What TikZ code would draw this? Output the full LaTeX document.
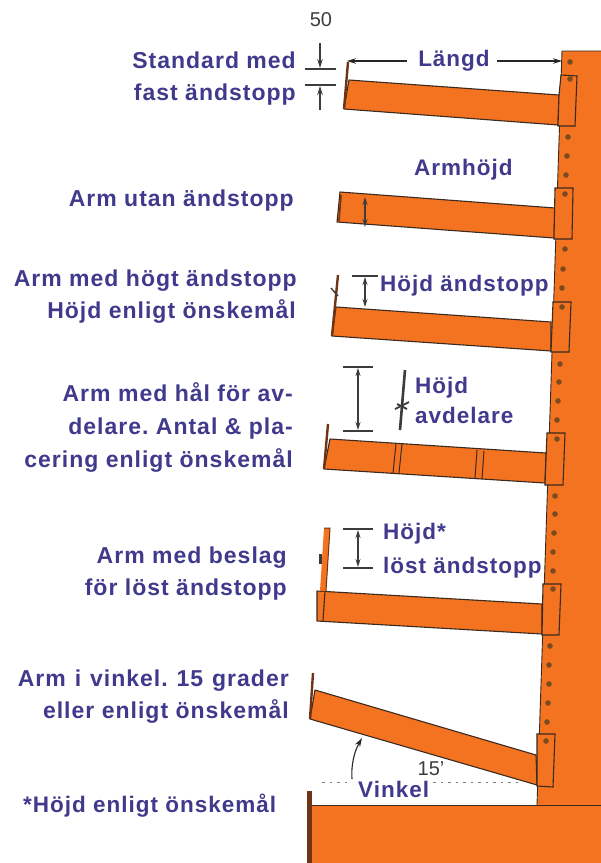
\documentclass[tikz,border=0pt]{standalone}
\usepackage{fontspec}
\setmainfont{Liberation Sans}
\newfontfamily\labfont[LetterSpace=4.4]{Liberation Sans}
\definecolor{steel}{HTML}{F47320}
\definecolor{steeldark}{HTML}{6E3414}
\definecolor{labelblue}{HTML}{3F3A8C}
\definecolor{inkline}{HTML}{3A2A20}
\definecolor{holeink}{HTML}{7A4A20}
\definecolor{dimgray}{HTML}{3C3C3C}
\usetikzlibrary{arrows.meta}
\tikzset{
  lab/.style={inner sep=0pt,text=labelblue,font=\labfont\fontsize{22.5}{22.5}\selectfont\bfseries\frenchspacing},
  lableft/.style={inner sep=0pt,text=labelblue,font=\labfont\fontsize{23}{23}\selectfont\bfseries\frenchspacing,anchor=base east},
  labright/.style={lab,anchor=base west},
  numlab/.style={inner sep=0pt,text=dimgray,font=\fontsize{20}{20}\selectfont},
  body/.style={fill=steel,draw=none},
  arm/.style={fill=steel,draw=inkline,line width=1.1pt,line join=round},
  plate/.style={fill=steel,draw=inkline,line width=1.1pt},
  stopbar/.style={draw=steeldark,line width=2.4pt},
  hole/.style={fill=holeink,draw=none},
  dimtick/.style={draw=dimgray,line width=1.1pt},
  dimarrow/.style={draw=dimgray,line width=1.1pt,{Stealth[length=8pt,width=5pt]}-{Stealth[length=8pt,width=5pt]}},
  leader/.style={draw=black!85,line width=1.1pt,-{Stealth[length=9pt,width=5.5pt]}},
  squig/.style={draw=dimgray,line width=2.6pt},
  dotline/.style={draw=black!50,line width=1pt,dash pattern=on 2.5pt off 5pt},
}
\begin{document}
\begin{tikzpicture}[x=1pt,y=-1pt]
\useasboundingbox (0,0) rectangle (601,863);
% column and base
\fill[body] (562,51) -- (601,51) -- (601,806) -- (537,806) -- cycle;
\draw[draw=inkline,line width=0.9pt] (601,51) -- (562,51) -- (537,805);
\fill[body] (307,805) rectangle (601,863);
\fill[steeldark] (307,791) rectangle (312,863);
\draw[draw=inkline,line width=1pt] (312,805) -- (601,805);
% column holes
\foreach \hx/\hy in {570/62,568/137,567/156,566/175,565/249,563/269,562/288,560/364,559/382,558/401,557/420,555/496,555/514,554/533,553/552,553/571,550/646,549/665,549/684,548/703,547/722}
  \fill[hole] (\hx,\hy) circle (2.8pt);
% arm 1
\draw[arm] (349,80) -- (559,95) -- (558,125) -- (344,109) -- cycle;
\draw[stopbar] (348,62) -- (344,109);
\draw[plate] (561,75) -- (577,76) -- (575,126) -- (558,126) -- (559,95) -- cycle;
\fill[hole] (570,79) circle (2.8pt);
% arm 2
\draw[arm] (340,192) -- (555,208) -- (554,238) -- (337,222) -- cycle;
\draw[stopbar,line width=1.6pt] (341,195) -- (339,221);
\draw[plate] (555,188) -- (573,188) -- (572,239) -- (554,239) -- cycle;
\fill[hole] (565,194) circle (2.8pt);
% arm 3
\draw[arm] (336,307) -- (551,322) -- (551,351) -- (332,336) -- cycle;
\draw[stopbar] (338,275) -- (332,336);
\draw[plate] (553,302) -- (571,302) -- (569,352) -- (551,352) -- cycle;
\fill[hole] (562,307) circle (2.8pt);
\draw[draw=dimgray,line width=1.4pt] (331,288) -- (338,296);
% arm 4
\draw[arm] (330,439) -- (546,453) -- (545,483) -- (324,469) -- cycle;
\draw[stopbar] (328,424) -- (324,469);
\draw[inkline,line width=1pt] (396,444) -- (393,473) (402,444) -- (399,473)
  (477,450) -- (475,478) (484,451) -- (482,479);
\draw[plate] (547,433) -- (565,433) -- (563,485) -- (545,485) -- cycle;
\fill[hole] (557,439) circle (2.8pt);
% arm 5
\draw[arm] (317,591) -- (542,604) -- (542,634) -- (317,621) -- cycle;
\draw[inkline,line width=1.1pt] (325,591) -- (323,621);
\fill[body] (324,528) -- (330,528) -- (326,591) -- (320,591) -- cycle;
\draw[draw=steeldark,line width=1pt] (324,528) -- (330,528) -- (326,591);
\fill[dimgray] (319,554) rectangle (321.5,564);
\draw[plate] (543,584) -- (561,584) -- (559,635) -- (542,635) -- cycle;
\fill[hole] (553,589) circle (2.8pt);
% arm 6
\draw[arm] (315,690) -- (536,755) -- (537,785) -- (310,719) -- cycle;
\draw[stopbar] (313,673) -- (310,719);
\draw[plate] (537,734) -- (555,734) -- (553,787) -- (537,786) -- cycle;
\fill[hole] (546,741) circle (2.8pt);
% dimension marks
\draw[dimtick] (305,69) -- (336,69) (305,85) -- (336,85);
\draw[draw=dimgray,line width=1.1pt,-{Stealth[length=9pt,width=5.5pt]}] (320,43) -- (320,68);
\draw[draw=dimgray,line width=1.1pt,-{Stealth[length=9pt,width=5.5pt]}] (320,110) -- (320,86);
\coordinate (lenL) at (347,61);
\coordinate (lenR) at (562,61);
\node[lab] (laengd) at (454,61) {Längd};
\draw[leader] ([xshift=-11pt]laengd.west) -- (lenL);
\draw[leader] ([xshift=7pt]laengd.east) -- (lenR);
\draw[dimarrow] (365,197) -- (365,227);
\draw[dimtick] (352,276) -- (378,276);
\draw[dimarrow] (365,277) -- (365,307);
\draw[dimtick] (343,367) -- (373,367) (343,431) -- (373,431);
\draw[dimarrow] (358,368) -- (358,430);
\draw[squig] (405,370) -- (400,430);
\draw[draw=dimgray,line width=1.8pt] (395,409) -- (409,402) (397,404) -- (407,409);
\draw[dimtick] (343,529) -- (373,529) (343,568) -- (373,568);
\draw[dimarrow] (358,530) -- (358,567);
\draw[leader,{Stealth[length=9pt,width=5.5pt]}-] (362,738) .. controls (354,752) and (351,766) .. (352,779);
\draw[dotline] (322,782) -- (352,782);
\draw[dotline] (433,782) -- (520,782);
% labels
\node[numlab] (n50) at (321,20) {50};
\node[numlab] (n15) at (431,769) {15'};
\node[lableft] (l1a) at (296,68) {Standard med};
\node[lableft] (l1b) at (296,100) {fast ändstopp};
\node[lableft] (l2) at (294,206) {Arm utan ändstopp};
\node[lableft] (l3a) at (297,286) {Arm med högt ändstopp};
\node[lableft] (l3b) at (296,318) {Höjd enligt önskemål};
\node[lableft] (l4a) at (293,401) {Arm med hål för av-};
\node[lableft] (l4b) at (293,434) {delare. Antal \& pla-};
\node[lableft] (l4c) at (293,467) {cering enligt önskemål};
\node[lableft] (l5a) at (287,563) {Arm med beslag};
\node[lableft] (l5b) at (287,595) {för löst ändstopp};
\node[lableft] (l6a) at (289,686) {Arm\hspace{1.5pt} i\hspace{1.5pt} vinkel.\hspace{1.5pt} 15\hspace{1.5pt} grader};
\node[lableft] (l6b) at (289,718) {eller enligt önskemål};
\node[labright] (l7) at (23,812) {*Höjd enligt önskemål};
\node[labright] (r1) at (414,175) {Armhöjd};
\node[labright] (r2) at (380,291) {Höjd ändstopp};
\node[labright] (r3) at (415,393) {Höjd};
\node[labright] (r4) at (415,423) {avdelare};
\node[labright] (r5) at (383,539) {Höjd*};
\node[labright] (r6) at (383,573) {löst ändstopp};
\node[labright] (r7) at (358,797) {Vinkel};
\end{tikzpicture}
\end{document}
